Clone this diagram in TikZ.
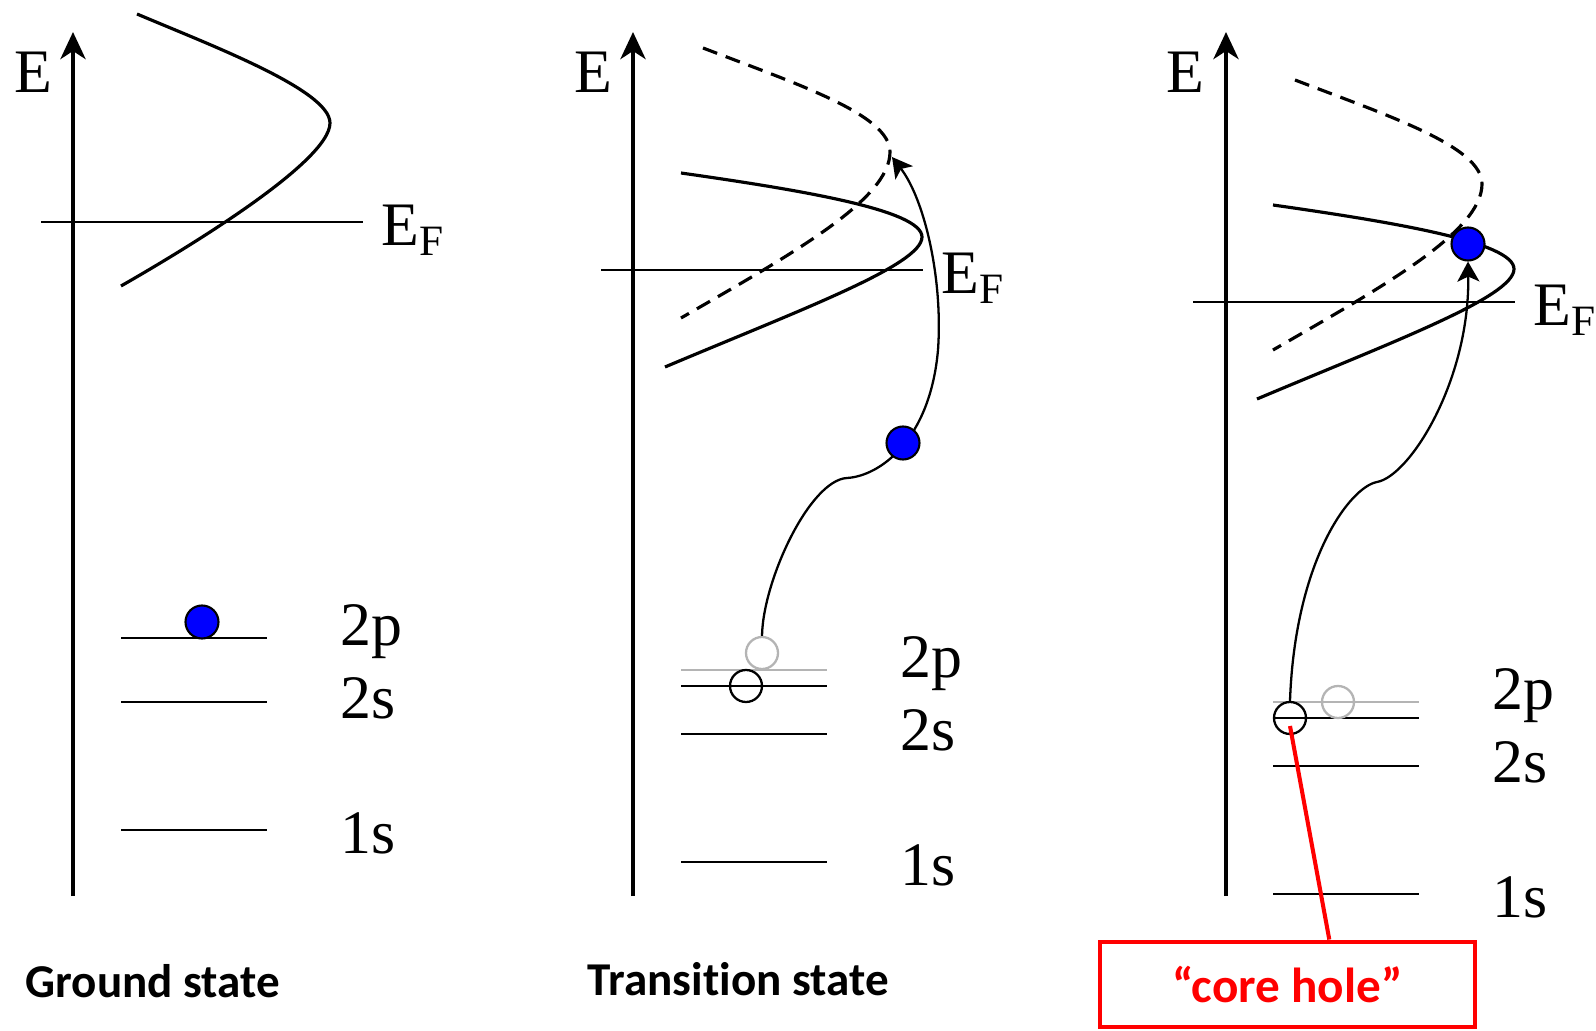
\documentclass[tikz,border=0pt]{standalone}
\usepackage{fontspec}
\setmainfont{Liberation Serif}
\newfontfamily\tagfont{Liberation Serif}
\newfontfamily\capfont[Ligatures=NoCommon]{Carlito}
\usetikzlibrary{arrows.meta,calc}
\definecolor{Electron}{HTML}{0000FF}
\definecolor{Ghost}{HTML}{B4B4B4}
\definecolor{Alert}{HTML}{FF0000}

\begin{document}
\begin{tikzpicture}[
  axis/.style={line width=1.4pt,-{Stealth[length=0.27cm,width=0.25cm,inset=0.08cm]}},
  fermi/.style={line width=0.7pt},
  dos/.style={line width=0.9pt},
  dosold/.style={dos,dash pattern=on 4.3pt off 2.6pt},
  level/.style={line width=0.7pt},
  oldlevel/.style={line width=0.7pt,draw=Ghost},
  electron/.style={circle,draw=black,fill=Electron,line width=0.6pt,minimum size=0.33cm,inner sep=0pt},
  hole/.style={circle,draw=black,line width=0.65pt,minimum size=0.32cm,inner sep=0pt},
  ghost/.style={circle,draw=Ghost,line width=0.65pt,minimum size=0.32cm,inner sep=0pt},
  jump/.style={line width=0.65pt,-{Stealth[length=0.2cm,width=0.22cm,inset=0.05cm]}},
  tag/.style={anchor=base west,inner sep=0pt,font=\tagfont\fontsize{17.6}{21}\selectfont},
  caption/.style={anchor=base west,inner sep=0pt,font=\capfont\bfseries\fontsize{13.4}{16}\selectfont},
  holebox/.style={draw=Alert,line width=1.4pt,minimum width=3.75cm,minimum height=0.85cm,inner sep=0pt,text=Alert,font=\capfont\bfseries\fontsize{14}{16}\selectfont},
  pointer/.style={draw=Alert,line width=1.15pt}
]
\useasboundingbox (0,0) rectangle (15.96,10.30);
\fill[white] (0,0) rectangle (15.96,10.30);
\coordinate (A1) at (0.73,1.34); \coordinate (T1) at (0.73,9.98);
\draw[axis] (A1)--(T1);
\node[tag,anchor=base] (E1) at (0.33,9.37) {E};
\coordinate (F1a) at (0.41,8.08); \coordinate (F1b) at (3.63,8.08);
\draw[fermi] (F1a)--(F1b);
\node[tag] (EF1) at ($(F1b)+(0.18,-0.24)$) {E\textsubscript{F}};
\draw[dos] (1.37,10.16) .. controls (2.10,9.85) and (3.30,9.40) .. (3.30,9.07) .. controls (3.30,8.67) and (1.77,7.76) .. (1.21,7.44);
\draw[level] (1.21,3.92)--(2.67,3.92);
\draw[level] (1.21,3.28)--(2.67,3.28);
\draw[level] (1.21,2.00)--(2.67,2.00);
\node[electron] (e1) at (2.02,4.08) {};
\node[tag] (p1) at (3.40,3.85) {2p};
\node[tag] (s21) at (3.40,3.12) {2s};
\node[tag] (s11) at (3.40,1.77) {1s};
\node[caption] (cap1) at (0.25,0.33) {Ground state};
\coordinate (A2) at (6.33,1.34); \coordinate (T2) at (6.33,9.98);
\draw[axis] (A2)--(T2);
\node[tag,anchor=base] (E2) at (5.93,9.37) {E};
\coordinate (F2a) at (6.01,7.60); \coordinate (F2b) at (9.23,7.60);
\draw[fermi] (F2a)--(F2b);
\node[tag] (EF2) at ($(F2b)+(0.18,-0.24)$) {E\textsubscript{F}};
\draw[dosold] (7.03,9.82) .. controls (8.00,9.45) and (8.90,9.15) .. (8.90,8.78) .. controls (8.90,8.30) and (7.90,7.75) .. (6.81,7.12);
\draw[dos] (6.81,8.57) .. controls (8.00,8.40) and (9.22,8.20) .. (9.22,7.93) .. controls (9.22,7.65) and (8.00,7.20) .. (6.65,6.63);
\draw[oldlevel] (6.81,3.60)--(8.27,3.60);
\draw[level] (6.81,3.44)--(8.27,3.44);
\draw[level] (6.81,2.96)--(8.27,2.96);
\draw[level] (6.81,1.68)--(8.27,1.68);
\node[ghost] (g2) at (7.62,3.77) {};
\node[hole] (h2) at (7.46,3.44) {};
\coordinate (peak2) at (8.92,8.73);
\draw[jump] (g2.north) .. controls (7.63,4.50) and (8.10,5.50) .. (8.47,5.52) .. controls (8.80,5.54) and (9.30,5.90) .. (9.38,6.80) .. controls (9.43,7.50) and (9.25,8.30) .. (peak2);
\node[electron] (e2) at (9.03,5.87) {};
\node[tag] (p2) at (9.00,3.53) {2p};
\node[tag] (s22) at (9.00,2.80) {2s};
\node[tag] (s12) at (9.00,1.45) {1s};
\node[caption] (cap2) at (5.87,0.35) {Transition state};
\coordinate (A3) at (12.26,1.34); \coordinate (T3) at (12.26,9.98);
\draw[axis] (A3)--(T3);
\node[tag,anchor=base] (E3) at (11.85,9.37) {E};
\coordinate (F3a) at (11.93,7.28); \coordinate (F3b) at (15.15,7.28);
\draw[fermi] (F3a)--(F3b);
\node[tag] (EF3) at ($(F3b)+(0.18,-0.24)$) {E\textsubscript{F}};
\draw[dosold] (12.95,9.50) .. controls (13.92,9.13) and (14.82,8.83) .. (14.82,8.46) .. controls (14.82,7.98) and (13.82,7.43) .. (12.73,6.80);
\draw[dos] (12.73,8.25) .. controls (13.92,8.08) and (15.14,7.88) .. (15.14,7.61) .. controls (15.14,7.33) and (13.92,6.88) .. (12.57,6.31);
\draw[oldlevel] (12.73,3.28)--(14.19,3.28);
\draw[level] (12.73,3.12)--(14.19,3.12);
\draw[level] (12.73,2.64)--(14.19,2.64);
\draw[level] (12.73,1.36)--(14.19,1.36);
\node[ghost] (g3) at (13.38,3.28) {};
\node[hole] (h3) at (12.90,3.12) {};
\node[electron] (e3) at (14.68,7.86) {};
\draw[jump] (h3.north) .. controls (12.95,4.70) and (13.50,5.43) .. (13.77,5.48) .. controls (14.10,5.54) and (14.70,6.50) .. (e3.south);
\node[tag] (p3) at (14.92,3.21) {2p};
\node[tag] (s23) at (14.92,2.48) {2s};
\node[tag] (s13) at (14.92,1.13) {1s};
\node[holebox] (holebox) at (12.875,0.455) {“core hole”};
\draw[pointer] ($(h3.center)+(0,-0.08)$) -- ($(holebox.north west)!0.61!(holebox.north east)$);
\end{tikzpicture}
\end{document}
